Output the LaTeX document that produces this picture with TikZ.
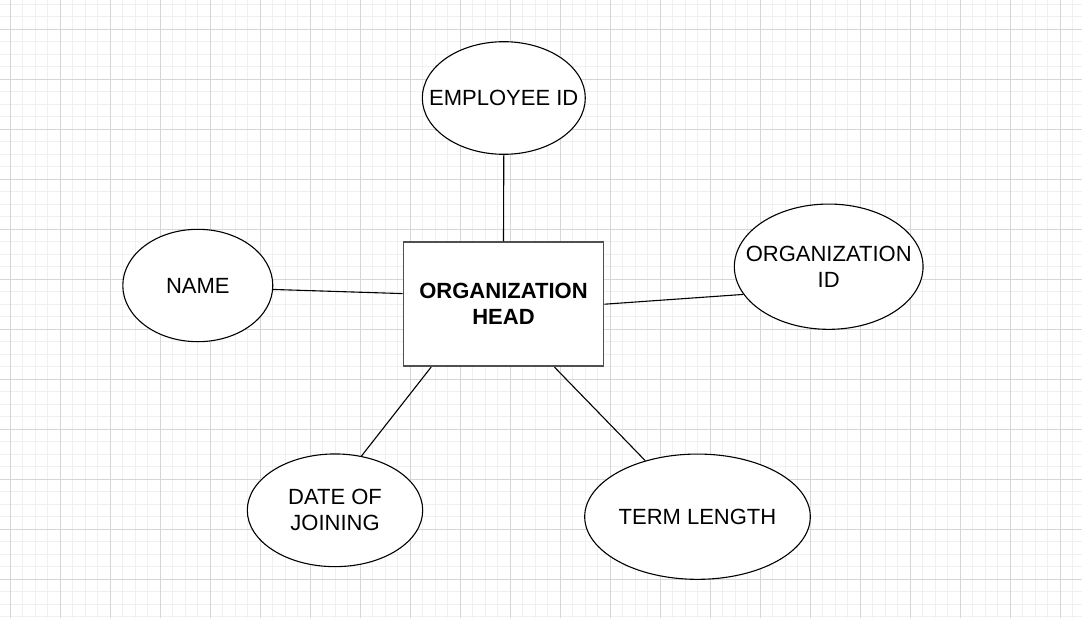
\documentclass[tikz,border=0pt]{standalone}
\usepackage{fontspec}
\setmainfont{Liberation Sans}
\usetikzlibrary{shapes.geometric}
\definecolor{minorc}{RGB}{240,240,240}
\definecolor{majorc}{RGB}{214,214,214}
\definecolor{boxc}{RGB}{80,80,80}
\begin{document}
\begin{tikzpicture}[x=1pt,y=-1pt,
  minorgrid/.style={draw=minorc, line width=1pt},
  majorgrid/.style={draw=majorc, line width=1pt},
  attr/.style={draw=black, line width=1.1pt, fill=white, ellipse, inner sep=0pt},
  atxt/.style={font=\fontsize{22}{26}\selectfont, align=center, text=black, inner sep=0pt},
  ent/.style={draw=boxc, line width=1.8pt, fill=white, rectangle, inner sep=0pt,
    minimum width=200pt, minimum height=124pt,
    font=\fontsize{22}{26}\selectfont\bfseries, align=center},
  conn/.style={draw=black, line width=1.1pt}]
\fill[white] (0,0) rectangle (1082,618);
\useasboundingbox (0,0) rectangle (1082,618);
% grid
\foreach \x in {-2.5,10,...,1085} \draw[minorgrid] (\x,0) -- (\x,618);
\foreach \y in {4.3,16.8,...,620} \draw[minorgrid] (0,\y) -- (1082,\y);
\foreach \x in {10,60,...,1060} \draw[majorgrid] (\x,0) -- (\x,618);
\foreach \y in {29.3,79.3,...,600} \draw[majorgrid] (0,\y) -- (1082,\y);
% nodes
\node[ent] (head) at (503.5,304.2) {ORGANIZATION\\HEAD};
\node[attr, minimum width=163pt, minimum height=112.6pt,
  label={[atxt]center:EMPLOYEE ID}] (emp) at (503.8,98) {};
\node[attr, minimum width=150pt, minimum height=112.4pt,
  label={[atxt]center:NAME}] (name) at (197.8,285.5) {};
\node[attr, minimum width=188.7pt, minimum height=125.3pt,
  label={[atxt]center:ORGANIZATION\\ID}] (orgid) at (828.7,266.7) {};
\node[attr, minimum width=175.4pt, minimum height=112.7pt,
  label={[atxt]center:DATE OF\\JOINING}] (doj) at (335,510.3) {};
\node[attr, minimum width=225.6pt, minimum height=125.3pt,
  label={[atxt]center:TERM LENGTH}] (term) at (697.5,516.7) {};
% connectors
\draw[conn] (emp.south) -- (head.north);
\draw[conn] (name.-3) -- (head.174.5);
\draw[conn] (head.0.5) -- (orgid.198.6);
\draw[conn] (head.221.4) -- (doj.64);
\draw[conn] (head.309.3) -- (term.133.5);
\end{tikzpicture}
\end{document}
